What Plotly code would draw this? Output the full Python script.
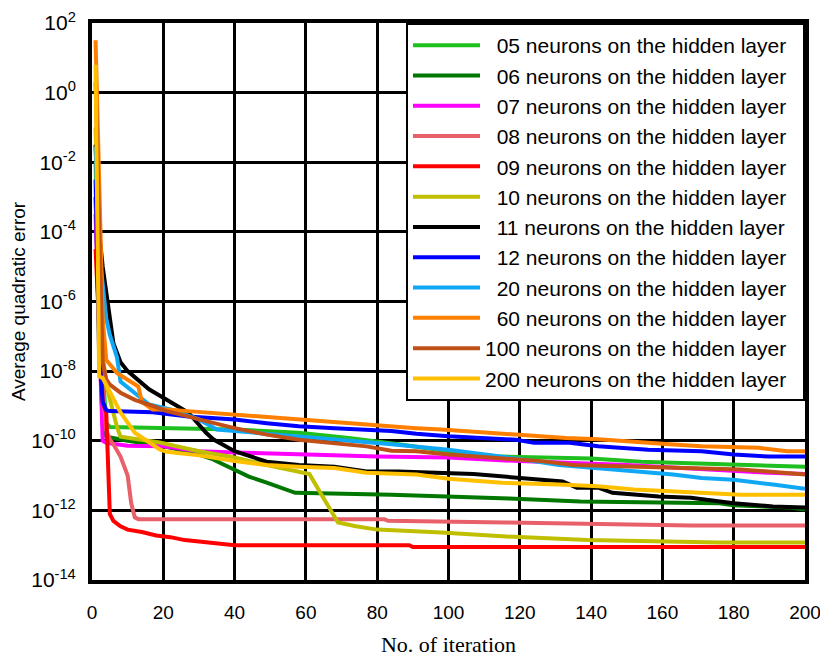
import plotly.graph_objects as go

# Training error curves: iteration number vs. average quadratic error
series_names = [
    "05 neurons on the hidden layer",
    "06 neurons on the hidden layer",
    "07 neurons on the hidden layer",
    "08 neurons on the hidden layer",
    "09 neurons on the hidden layer",
    "10 neurons on the hidden layer",
    "11 neurons on the hidden layer",
    "12 neurons on the hidden layer",
    "20 neurons on the hidden layer",
    "60 neurons on the hidden layer",
    "100 neurons on the hidden layer",
    "200 neurons on the hidden layer",
]

colors = ["#1fbf1f", "#007800", "#ff00ff", "#e8606a", "#ff0000", "#bfbf00",
          "#000000", "#0000ff", "#10a8f5", "#ff8000", "#c05018", "#ffc000"]

it_05 = [1, 2, 3, 4, 5, 19, 40, 58, 72, 86, 100, 115, 140, 154, 180, 193, 200]
err_05 = [1e-2, 1e-6, 1e-8, 3.2e-10, 2.5e-10, 2.3e-10, 2.1e-10, 1.7e-10, 1.2e-10,
          7.9e-11, 5e-11, 3.5e-11, 3.1e-11, 2.5e-11, 2.0e-11, 1.9e-11, 1.8e-11]

it_06 = [1, 2, 3, 4, 10, 20, 30, 34, 36, 40, 44, 49, 54, 57, 84, 100, 117, 137,
         176, 180, 196, 200]
err_06 = [1e-3, 1e-7, 3e-10, 1.3e-10, 1e-10, 7e-11, 4e-11, 2.9e-11, 2.3e-11,
          1.5e-11, 9.3e-12, 6.3e-12, 4e-12, 3.2e-12, 2.8e-12, 2.5e-12, 2.2e-12,
          1.8e-12, 1.6e-12, 1.4e-12, 1.2e-12, 1.05e-12]

it_07 = [1, 2, 3, 4, 10, 20, 30, 40, 57, 80, 100, 120, 150, 170, 190, 200]
err_07 = [3.2e-4, 6.3e-8, 1e-10, 8.7e-11, 7.2e-11, 6.9e-11, 5e-11, 4.6e-11,
          4e-11, 3.5e-11, 3.3e-11, 2.6e-11, 2e-11, 1.5e-11, 1.2e-11, 1.1e-11]

it_08 = [1, 2, 3, 4, 5, 6, 8, 10, 11, 12, 13, 82, 83, 116, 168, 200]
err_08 = [1e-3, 1e-6, 3.2e-9, 2e-10, 1.1e-10, 7.9e-11, 3.5e-11, 1e-11, 1.6e-12,
          6.3e-13, 5.6e-13, 5.6e-13, 5e-13, 4.5e-13, 3.7e-13, 3.7e-13]

it_09 = [1, 2, 3, 4, 5, 6, 8, 10, 14, 18, 22, 26, 32, 40, 89, 90, 200]
err_09 = [3.2e-5, 1e-7, 1.3e-9, 6.3e-10, 7.9e-13, 5e-13, 3.5e-13, 2.8e-13,
          2.4e-13, 1.9e-13, 1.7e-13, 1.4e-13, 1.2e-13, 1.0e-13, 1.0e-13,
          8.9e-14, 8.9e-14]

it_10 = [1, 2, 3, 4, 5, 6, 7, 8, 13, 19, 30, 40, 49, 58, 61, 65, 69, 74, 80,
         98, 106, 115, 139, 176, 200]
err_10 = [1e-1, 1e-5, 3.2e-8, 4e-9, 1.6e-9, 6.3e-10, 2.5e-10, 1.3e-10, 1.1e-10,
          8.9e-11, 5e-11, 3.3e-11, 2e-11, 1.3e-11, 1.1e-11, 2.2e-12, 4.5e-13,
          3.5e-13, 2.8e-13, 2.3e-13, 2e-13, 1.8e-13, 1.4e-13, 1.2e-13, 1.2e-13]

it_11 = [1, 2, 3, 5, 6, 8, 10, 16, 22, 27, 32, 34, 40, 49, 58, 68, 77, 86, 107,
         115, 124, 132, 136, 142, 146, 159, 168, 180, 191, 200]
err_11 = [3.2e-2, 1e-4, 1e-5, 3.2e-7, 6.3e-8, 1.8e-8, 1e-8, 3e-9, 1.3e-9,
          6.5e-10, 1.7e-10, 1.1e-10, 5e-11, 2.5e-11, 2e-11, 1.8e-11, 1.3e-11,
          1.3e-11, 1.1e-11, 9.5e-12, 7.6e-12, 6.8e-12, 4.5e-12, 4.5e-12,
          3.2e-12, 2.5e-12, 2.3e-12, 1.6e-12, 1.3e-12, 1.2e-12]

it_12 = [1, 2, 3, 4, 5, 17, 27, 40, 49, 58, 68, 77, 84, 91, 100, 119, 124, 134,
         142, 156, 171, 180, 190, 200]
err_12 = [3.2e-3, 3.2e-8, 1.3e-9, 7.6e-10, 7.1e-10, 6.6e-10, 5e-10, 4.1e-10,
          3.2e-10, 2.6e-10, 2.3e-10, 2.1e-10, 1.9e-10, 1.6e-10, 1.35e-10,
          1.07e-10, 8.7e-11, 8.7e-11, 6.9e-11, 5.5e-11, 5e-11, 4e-11, 3.5e-11,
          3.5e-11]

it_20 = [1, 2, 3, 4, 5, 6, 7, 8, 11, 16, 22, 30, 35, 40, 58, 75, 84, 100, 106,
         121, 131, 142, 152, 163, 171, 180, 191, 200]
err_20 = [2.8e-2, 2.5e-5, 3.2e-6, 3.2e-7, 1.1e-7, 5e-8, 2.5e-8, 5e-9, 2.8e-9,
          1.1e-9, 7.9e-10, 4.1e-10, 2.1e-10, 1.9e-10, 1.4e-10, 1e-10, 7.9e-11,
          5.5e-11, 4.6e-11, 2.9e-11, 2e-11, 1.6e-11, 1.3e-11, 1.07e-11, 8.5e-12,
          7.6e-12, 5.5e-12, 4.2e-12]

it_60 = [1, 2, 3, 4, 7, 13, 14, 17, 21, 27, 40, 58, 77, 91, 98, 111, 120, 133,
         142, 147, 162, 171, 187, 195, 200]
err_60 = [3.2e1, 1e-3, 3.2e-7, 2.1e-8, 8.9e-9, 3.6e-9, 1.3e-9, 7.9e-10, 7.9e-10,
          7.1e-10, 5.6e-10, 4.1e-10, 2.9e-10, 2.3e-10, 2.1e-10, 1.7e-10, 1.5e-10,
          1.2e-10, 1.1e-10, 1e-10, 7.9e-11, 6.9e-11, 6.3e-11, 5e-11, 5e-11]

it_100 = [1, 2, 3, 4, 5, 8, 12, 17, 21, 27, 30, 40, 49, 58, 68, 77, 84, 91, 100,
          112, 126, 135, 168, 182, 200]
err_100 = [2e0, 1e-4, 1.8e-8, 5.8e-9, 4.1e-9, 2.4e-9, 1.5e-9, 1e-9, 7.1e-10,
           5e-10, 4.1e-10, 2.3e-10, 1.5e-10, 1.07e-10, 8.7e-11, 6.9e-11, 5.2e-11,
           5e-11, 4e-11, 3.2e-11, 2.6e-11, 2e-11, 1.7e-11, 1.5e-11, 1.07e-11]

it_200 = [1, 2, 3, 4, 5, 8, 12, 19, 21, 30, 40, 49, 58, 68, 77, 91, 100, 115,
          131, 142, 152, 171, 182, 200]
err_200 = [6.3e0, 7.1e-9, 6.3e-9, 4e-9, 2.4e-9, 6.5e-10, 1.7e-10, 5.6e-11,
           4.8e-11, 3.8e-11, 2.6e-11, 2e-11, 1.8e-11, 1.66e-11, 1.2e-11,
           1.07e-11, 8.1e-12, 6.2e-12, 5.5e-12, 4.9e-12, 4e-12, 3.2e-12, 2.8e-12,
           2.8e-12]

iterations = [it_05, it_06, it_07, it_08, it_09, it_10, it_11, it_12, it_20,
              it_60, it_100, it_200]
errors = [err_05, err_06, err_07, err_08, err_09, err_10, err_11, err_12,
          err_20, err_60, err_100, err_200]

y_tick_vals = [1e-14, 1e-12, 1e-10, 1e-8, 1e-6, 1e-4, 1e-2, 1e0, 1e2]
y_tick_text = ["10<sup>-14</sup>", "10<sup>-12</sup>", "10<sup>-10</sup>",
               "10<sup>-8</sup>", "10<sup>-6</sup>", "10<sup>-4</sup>",
               "10<sup>-2</sup>", "10<sup>0</sup>", "10<sup>2</sup>"]

SANS = "Liberation Sans, Arial, sans-serif"
SERIF = "Liberation Serif, Times New Roman, serif"
NBSP = "\u00a0"

fig = go.Figure()
for name, xs, ys, col in zip(series_names, iterations, errors, colors):
    # two-digit counts get padded so legend labels line up on the right
    lead = "" if name.startswith(("100", "200")) else NBSP * 2
    fig.add_trace(go.Scatter(
        x=xs, y=ys, mode="lines", name=lead + name + NBSP * 2,
        line=dict(color=col, width=4),
    ))

fig.update_layout(
    width=820, height=658,
    margin=dict(l=92, r=15, t=23, b=78, autoexpand=False),
    paper_bgcolor="white", plot_bgcolor="white",
    font=dict(family=SANS, color="black"),
    showlegend=True,
    legend=dict(
        x=1, xanchor="right", y=1, yanchor="top",
        bgcolor="white", bordercolor="black", borderwidth=2,
        font=dict(family=SANS, size=21, color="black"),
        itemwidth=67,
    ),
)

fig.update_xaxes(
    range=[0, 200], dtick=20, tick0=0, automargin=False,
    ticklabeloverflow="allow",
    showgrid=True, gridcolor="black", gridwidth=2.5,
    showline=True, mirror=True, linecolor="black", linewidth=4,
    zeroline=False, ticks="", ticklabelstandoff=12,
    tickfont=dict(family=SANS, size=19),
    title=dict(text="No. of iteration", font=dict(family=SERIF, size=22),
               standoff=16),
)

fig.update_yaxes(
    type="log", range=[-14, 2], automargin=False,
    ticklabeloverflow="allow",
    tickvals=y_tick_vals, ticktext=y_tick_text,
    showgrid=True, gridcolor="black", gridwidth=2.5,
    showline=True, mirror=True, linecolor="black", linewidth=4,
    zeroline=False, ticks="", ticklabelstandoff=8,
    tickfont=dict(family=SANS, size=21),
    title=dict(text="Average quadratic error", font=dict(family=SANS, size=19),
               standoff=2),
)

fig.write_html("out.html")
